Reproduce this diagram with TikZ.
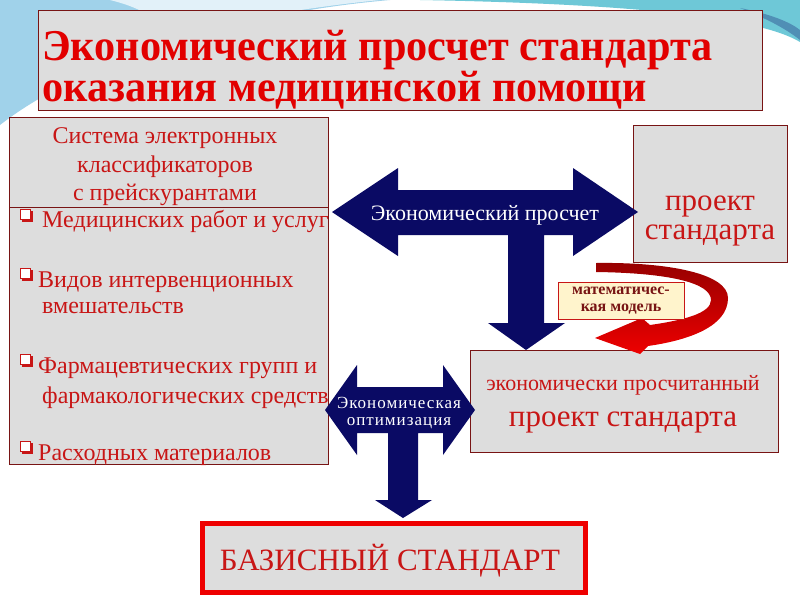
\documentclass[tikz,border=0pt]{standalone}
\usepackage{fontspec}
\setmainfont{Liberation Serif}
\newfontfamily\titlefont[FakeStretch=0.96]{Liberation Serif}
\newfontfamily\spacedfont[LetterSpace=6]{Liberation Serif}
\usepackage{tikz}
\usetikzlibrary{arrows.meta}

\definecolor{boxgray}{RGB}{221,221,221}
\definecolor{boxline}{RGB}{120,20,20}
\definecolor{textred}{RGB}{200,22,22}
\definecolor{titlered}{RGB}{226,0,0}
\definecolor{navyblue}{RGB}{10,10,100}
\definecolor{skyblue}{RGB}{160,210,234}
\definecolor{seateal}{RGB}{110,200,215}
\definecolor{notefill}{RGB}{255,244,204}
\definecolor{darkred}{RGB}{150,0,0}
\definecolor{brightred}{RGB}{238,0,0}

\newcommand{\fsz}[2]{\fontsize{#1pt}{#2pt}\selectfont}

\begin{document}
\begin{tikzpicture}[
                        x=1pt, y=-1pt,
                        box/.style={rectangle, draw=boxline, fill=boxgray, line width=0.8pt, anchor=north west, inner sep=0pt},
                        redtext/.style={text=textred, inner sep=0pt},
                        arrowtext/.style={text=white, inner sep=0pt}
                    ]
                    \useasboundingbox (0,0) rectangle (800,600);
                    \fill[white] (0,0) rectangle (800,600);

                    % Background
                    \fill[skyblue] (0,0) -- (390,0) .. controls (250,12) and (90,55) .. (0,125) -- cycle;
                    \fill[white!70!skyblue] (110,0) -- (380,0) .. controls (300,8) and (200,25) .. (140,45) .. controls (170,25) and (150,10) .. (110,0) -- cycle;
                    \fill[seateal] (420,0) -- (800,0) -- (800,42) .. controls (760,18) and (640,4) .. (420,0) -- cycle;
                    \fill[seateal!70!navyblue] (740,8) .. controls (770,14) and (790,22) .. (800,30) -- (800,40) .. controls (785,28) and (765,18) .. (740,8) -- cycle;

                    % Blocks
                    \node [box, minimum width=724pt, minimum height=100pt] (title) at (38,10) {};
                    \node [box, minimum width=319pt, minimum height=347pt] (classif) at (9,117) {};
                    \node [box, minimum width=154pt, minimum height=137pt] (project) at (633,125) {};
                    \node [box, minimum width=308pt, minimum height=102pt] (calcproj) at (470,350) {};
                    \node [box, draw=brightred, line width=5pt, minimum width=383pt, minimum height=69pt] (basic) at (199.5,520.5) {};
                    \draw [boxline, line width=0.8pt] (classif.west |- 0,207) -- (classif.east |- 0,207);

                    % Curved arrow
                    \shade [top color=darkred, bottom color=brightred]
                        (596,263) .. controls (670,262) and (728,274) .. (728,298)
                        .. controls (728,326) and (690,340) .. (648,346)
                        -- (640,354) -- (595,338) -- (642,318) -- (650,325)
                        .. controls (685,320) and (711,313) .. (711,300)
                        .. controls (711,283) and (670,273) .. (596,272) -- cycle;
                    \node [rectangle, draw=textred, fill=notefill, line width=0.6pt, minimum width=126pt, minimum height=37pt, text=boxline, align=center, font=\fsz{16}{16.5}\bfseries] (mathmodel) at (621,300.5) {математичес-\\кая модель};

                    % Block arrows
                    \fill [navyblue] (332,212) -- (398,168) -- (398,190) -- (573,190) -- (573,168) -- (638,212)
                        -- (573,256) -- (573,235) -- (544,235) -- (544,323) -- (565,323) -- (526,350)
                        -- (488,323) -- (508,323) -- (508,235) -- (398,235) -- (398,256) -- cycle;
                    \fill [navyblue] (325,410) -- (357,365) -- (357,387) -- (443,387) -- (443,365) -- (475,410)
                        -- (443,455) -- (443,433) -- (418,433) -- (418,500) -- (432,500) -- (403,518)
                        -- (375,500) -- (388,500) -- (388,433) -- (357,433) -- (357,455) -- cycle;
                    \node [arrowtext, anchor=base, font=\fsz{22}{22}] (calcarrow) at (485,220) {Экономический просчет};
                    \node [arrowtext, anchor=base, font=\spacedfont\fsz{17}{17}] (optarrow1) at (399,408) {Экономическая};
                    \node [arrowtext, anchor=base, font=\spacedfont\fsz{17}{17}] (optarrow2) at (399,425) {оптимизация};

                    % Texts
                    \node [anchor=base west, text=titlered, inner sep=0pt, align=left, font=\titlefont\fsz{44}{39}\bfseries] (titletxt) at (42,101) {Экономический просчет стандарта\\оказания медицинской помощи};

                    \node [redtext, anchor=base, font=\fsz{24}{24}] (hdr1) at (165,143) {Система электронных};
                    \node [redtext, anchor=base, font=\fsz{24}{24}] (hdr2) at (165,172) {классификаторов};
                    \node [redtext, anchor=base, font=\fsz{24}{24}] (hdr3) at (165,200) {с прейскурантами};

                    \foreach \y in {209,268,354,441} {
                        \fill [textred] (22,\y+2) rectangle +(11,11);
                        \draw [textred, fill=white, line width=1pt] (20,\y) rectangle +(10,10);
                    }
                    \node [redtext, anchor=base west, font=\fsz{24}{24}] (item1) at (42,227) {Медицинских работ и услуг};
                    \node [redtext, anchor=base west, font=\fsz{24}{24}] (item2a) at (38,287) {Видов интервенционных};
                    \node [redtext, anchor=base west, font=\fsz{24}{24}] (item2b) at (42,313) {вмешательств};
                    \node [redtext, anchor=base west, font=\fsz{24}{24}] (item3a) at (38,373) {Фармацевтических групп и};
                    \node [redtext, anchor=base west, font=\fsz{24}{24}] (item3b) at (42,403) {фармакологических средств};
                    \node [redtext, anchor=base west, font=\fsz{24}{24}] (item4) at (38,460) {Расходных материалов};

                    \node [redtext, anchor=base, font=\fsz{31}{31}] (proj1) at (710,210) {проект};
                    \node [redtext, anchor=base, font=\fsz{31}{31}] (proj2) at (710,239) {стандарта};

                    \node [redtext, anchor=base, font=\fsz{22}{22}] (calc1) at (623,390) {экономически просчитанный};
                    \node [redtext, anchor=base, font=\fsz{31}{31}] (calc2) at (623,426) {проект стандарта};

                    \node [redtext, anchor=base, font=\fsz{31}{31}] (basictxt) at (390,570) {БАЗИСНЫЙ СТАНДАРТ};
                \end{tikzpicture}
\end{document}
